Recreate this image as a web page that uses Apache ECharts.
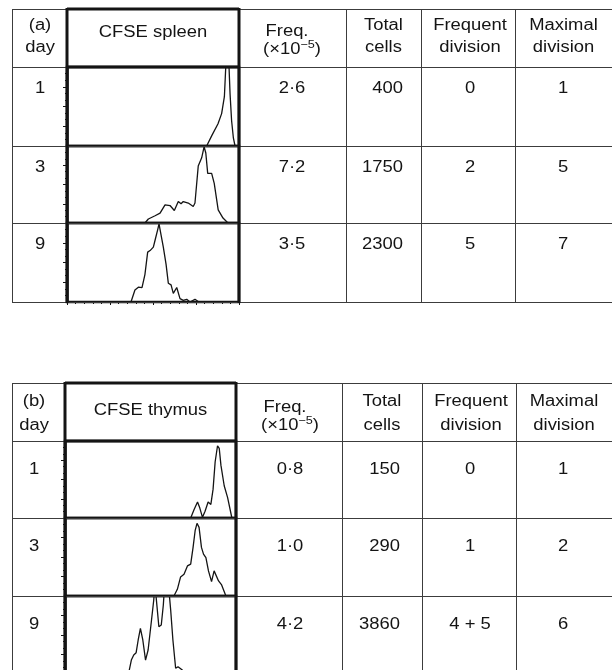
<!DOCTYPE html>
<html><head><meta charset="utf-8">
<script src="https://cdn.jsdelivr.net/npm/echarts@6/dist/echarts.min.js"></script>
<style>html,body{margin:0;padding:0;background:#fff}#c{width:612px;height:670px}</style>
</head><body><div id="c"></div><script>
// ---------- table data ----------
const daysA = ['1', '3', '9'];
const freqA = ['2·6', '7·2', '3·5'];
const totalA = ['400', '1750', '2300'];
const frequentA = ['0', '2', '5'];
const maximalA = ['1', '5', '7'];

const daysB = ['1', '3', '9'];
const freqB = ['0·8', '1·0', '4·2'];
const totalB = ['150', '290', '3860'];
const frequentB = ['0', '1', '4 + 5'];
const maximalB = ['1', '2', '6'];

const headersA = ['(a)\nday', 'CFSE spleen', 'Freq.', 'Total\ncells', 'Frequent\ndivision', 'Maximal\ndivision'];
const headersB = ['(b)\nday', 'CFSE thymus', 'Freq.', 'Total\ncells', 'Frequent\ndivision', 'Maximal\ndivision'];

// ---------- CFSE histograms: [relative CFSE intensity %, relative count %] ----------
const spleenDay1 = [[81.2,0],[84.1,12.8],[87.8,28.2],[89.9,41],[91.5,62.4],[92.3,100],[92.8,130],[93.7,130],[94.2,100],[94.8,66],[95.7,32],[96.7,10.7],[97.7,0]];
const spleenDay3 = [[45.3,0],[47.3,5.2],[51.2,9.4],[54.1,12.8],[57.0,23.6],[59.9,22.7],[62.4,16.3],[64.7,27.9],[66.3,24.9],[67.6,27.9],[70.5,25.9],[73.4,21.5],[74.4,25.9],[76.3,73.9],[78.3,84.6],[79.7,99],[80.7,90.9],[81.8,64.4],[84.1,64.4],[85.6,51.5],[87.9,17],[90.7,6.4],[93.6,0]];
const spleenDay9 = [[37.2,0],[39.5,15.1],[41.5,18.7],[43.6,18.3],[45.3,34.7],[46.9,63.1],[48.3,65.1],[50.2,69.5],[51.2,78.2],[52.7,91.3],[53.5,99],[54.7,84.6],[56.0,69.5],[57.6,47.7],[58.9,23.8],[60.5,21.7],[61.8,10.9],[63.8,18.3],[65.7,4.3],[67.6,2.1],[69.6,3.4],[71.5,0],[74.4,3.4],[76.7,0]];
const thymusDay1 = [[73.5,0],[75.5,11.1],[77.5,20.7],[78.8,13.2],[80.4,0.9],[81.9,8.8],[83.7,20.7],[85.3,17.6],[86.6,37.5],[87.8,72.7],[89.2,93.8],[90.2,90.4],[91.2,68.3],[93.1,41.9],[95.1,26.4],[97.6,0]];
const thymusDay3 = [[63.7,0],[65.7,8.6],[67.6,24.5],[69.6,27.9],[71.6,38.6],[73.5,40.8],[74.9,62.3],[76.1,83.7],[77.2,93.2],[78.4,88],[79.8,62.3],[81.0,53.7],[82.4,49.2],[83.9,32.2],[85.7,18.4],[87.2,32.2],[88.2,33],[89.8,19.3],[91.6,14.2],[94.1,0]];
const thymusDay9 = [[36.5,0],[37.6,5.1],[38.8,17.9],[40.2,24.4],[41.6,27.3],[42.8,43.6],[44.1,58.6],[45.5,43.6],[47.1,17.9],[48.6,30.8],[50.6,69.2],[51.9,94.9],[52.6,115],[53.6,115],[54.9,60.6],[56.3,62.8],[57.5,88.5],[58.2,112],[60.6,112],[61.8,82],[63.1,43.6],[64.7,7.3],[66.1,9.4],[67.2,8.6],[68.6,5.1],[70,0]];

// ---------- layout ----------
const FONT = '"Liberation Sans", Arial, Helvetica, sans-serif';
const FS = 16;
const SX = 1.15;
const INK = '#141414';
const THIN = '#3c3c3c';

const tables = [
  { top: 9, headBottom: 67, rows: [67, 146, 223, 302], bottom: 302,
    cols: [12, 67, 239, 346, 421, 515, 612],
    headY: [26, 48], cfseY: 33, freqY: [32, 50], rowTextDy: 22,
    dayX: 40, freqX: 292, totalRight: 403, frequentX: 470, maxX: 563,
    headers: headersA, days: daysA, freq: freqA, total: totalA, frequent: frequentA, maximal: maximalA,
    hist: [spleenDay1, spleenDay3, spleenDay9], hx: [67, 172] },
  { top: 383, headBottom: 441, rows: [441, 518, 596, 674], bottom: 700,
    cols: [12, 65, 236, 342, 422, 516, 612],
    headY: [402, 426], cfseY: 411, freqY: [408, 426], rowTextDy: 29,
    dayX: 34, freqX: 290, totalRight: 400, frequentX: 470, maxX: 563,
    headers: headersB, days: daysB, freq: freqB, total: totalB, frequent: frequentB, maximal: maximalB,
    hist: [thymusDay1, thymusDay3, thymusDay9], hx: [65, 171] }
];

const grids = [], xAxes = [], yAxes = [], series = [], graphics = [];

function hline(x1, x2, y, w, c) {
  graphics.push({ type: 'line', z: 50, silent: true,
    shape: { x1: x1, y1: y, x2: x2, y2: y }, style: { stroke: c, lineWidth: w } });
}
function vline(x, y1, y2, w, c) {
  graphics.push({ type: 'line', z: 50, silent: true,
    shape: { x1: x, y1: y1, x2: x, y2: y2 }, style: { stroke: c, lineWidth: w } });
}
function text(str, x, y, align) {
  graphics.push({ type: 'text', z: 60, silent: true, x: x, y: y, scaleX: SX,
    style: { text: str, font: FS + 'px ' + FONT, fill: INK, textAlign: align || 'center',
      textVerticalAlign: 'middle', lineHeight: 22 } });
}

tables.forEach(function (t, ti) {
  const L = t.cols[0], R = t.cols[6];
  // thin lines
  hline(L, R, t.top + 0.5, 1, THIN);
  t.rows.forEach(function (y, ri) { if (y <= 670) hline(L, R, y + 0.5, 1, THIN); });
  if (t.bottom < 670) hline(L, R, t.bottom + 0.5, 1, THIN);
  const yEnd = Math.min(t.bottom, 670);
  vline(L + 0.5, t.top, yEnd, 1, THIN);
  [3, 4, 5].forEach(function (k) { vline(t.cols[k] + 0.5, t.top, yEnd, 1, THIN); });
  // thick frame of CFSE column
  vline(t.cols[1], t.top - 1, yEnd + 1, 3, INK);
  vline(t.cols[2], t.top - 1, yEnd + 1, 3, INK);
  hline(t.cols[1], t.cols[2], t.top, 3, INK);
  hline(t.cols[1], t.cols[2], t.headBottom, 3, INK);

  // header texts
  const cx = function (k) { return (t.cols[k] + t.cols[k + 1]) / 2; };
  [0, 3, 4, 5].forEach(function (k) {
    const parts = t.headers[k].split('\n');
    let x = cx(k);
    if (k === 0) x = t.dayX;
    if (k === 4) x = cx(k) + 2;
    text(parts[0], x, t.headY[0]);
    text(parts[1], x, t.headY[1]);
  });
  text(t.headers[1], cx(1), t.cfseY);
  text(t.headers[2], t.freqX - 5, t.freqY[0]);
  graphics.push({ type: 'text', z: 60, silent: true, x: t.freqX, y: t.freqY[1], scaleX: SX,
    style: { text: '{n|(×10}{s|−5}{n|)}', fill: INK, textAlign: 'center', textVerticalAlign: 'middle',
      rich: {
        n: { fontSize: FS, fontFamily: FONT, fill: INK, lineHeight: 22, verticalAlign: 'middle' },
        s: { fontSize: 11, fontFamily: FONT, fill: INK, lineHeight: 10, verticalAlign: 'top' }
      } } });

  // row texts
  for (let r = 0; r < 3; r++) {
    const y = t.rows[r] + t.rowTextDy;
    text(t.days[r], t.dayX, y);
    text(t.freq[r], t.freqX, y);
    text(t.total[r], t.totalRight, y, 'right');
    text(t.frequent[r], t.frequentX, y);
    text(t.maximal[r], t.maxX, y);
  }

  // histograms
  for (let r = 0; r < 3; r++) {
    const gi = grids.length;
    const last = (r === 2);
    grids.push({ left: t.hx[0], top: t.rows[r], width: t.hx[1], height: t.rows[r + 1] - t.rows[r],
      show: true, borderColor: INK, borderWidth: 2.5, backgroundColor: 'transparent',
      containLabel: false, outerBoundsMode: 'none' });
    xAxes.push({ gridIndex: gi, type: 'value', min: 0, max: 100, interval: 25,
      axisLine: { show: false },
      axisTick: { show: last, inside: false, length: 3, lineStyle: { color: INK, width: 1 } },
      minorTick: { show: last, splitNumber: 5, length: 2, lineStyle: { color: INK, width: 1 } },
      axisLabel: { show: false }, splitLine: { show: false } });
    yAxes.push({ gridIndex: gi, type: 'value', min: 0, max: 100, interval: 25,
      axisLine: { show: true, lineStyle: { color: INK, width: 2.5 } },
      axisTick: { show: true, inside: false, length: 4, lineStyle: { color: INK, width: 1 } },
      minorTick: { show: true, splitNumber: 3, length: 2, lineStyle: { color: INK, width: 1 } },
      axisLabel: { show: false }, splitLine: { show: false } });
    series.push({ type: 'line', xAxisIndex: gi, yAxisIndex: gi, data: t.hist[r],
      showSymbol: false, symbol: 'none', clip: true, silent: true,
      lineStyle: { color: INK, width: 1.3 } });
  }
});

const chart = echarts.init(document.getElementById('c'), null, { renderer: 'canvas' });
chart.setOption({
  animation: false,
  backgroundColor: '#fff',
  grid: grids, xAxis: xAxes, yAxis: yAxes, series: series,
  graphic: { elements: graphics }
});
</script></body></html>
